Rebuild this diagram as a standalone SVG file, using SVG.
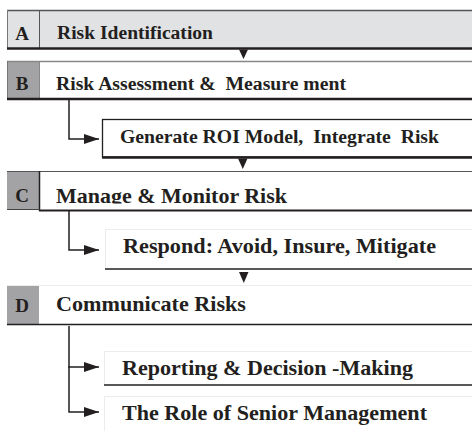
<svg xmlns="http://www.w3.org/2000/svg" width="472" height="431" viewBox="0 0 472 431">
  <defs>
    <style>
      .t { font-family: "Liberation Serif", "Times New Roman", serif; font-weight: bold; fill: #231f20; }
      .h { font-size: 18.5px; }
      .h2 { font-size: 21px; }
      .s { font-size: 21px; }
      .ltr { font-size: 19px; text-anchor: middle; }
      .conn { fill: none; stroke: #231f20; stroke-width: 1.5; }
      .faint { stroke: #ececec; stroke-width: 1; fill: none; }
      .tri { fill: #231f20; }
    </style>
    <marker id="arr" markerUnits="userSpaceOnUse" markerWidth="16" markerHeight="12" refX="15" refY="6" orient="auto">
      <polygon points="0,1 15,6 0,11" fill="#231f20"/>
    </marker>
    <clipPath id="clipC">
      <rect x="40" y="172" width="432" height="31.5"/>
    </clipPath>
  </defs>

  <rect width="472" height="431" fill="#ffffff"/>

  <!-- Section A -->
  <g id="sectionA">
    <rect x="7" y="10" width="465" height="38" fill="#e1e2e4"/>
    <line x1="7" y1="10.5" x2="472" y2="10.5" stroke="#555" stroke-width="1.5"/>
    <line x1="7.5" y1="10" x2="7.5" y2="48" stroke="#777" stroke-width="1"/>
    <line x1="39.5" y1="10" x2="39.5" y2="48" stroke="#555" stroke-width="1"/>
    <line x1="7" y1="48.5" x2="472" y2="48.5" stroke="#231f20" stroke-width="2.5"/>
    <text class="t ltr" x="22" y="39.5">A</text>
    <text class="t h" x="57" y="39" textLength="156" lengthAdjust="spacingAndGlyphs">Risk Identification</text>
  </g>

  <!-- Section B -->
  <g id="sectionB">
    <rect x="7" y="62" width="32" height="36" fill="#a3a3a5"/>
    <line x1="7" y1="61.5" x2="472" y2="61.5" stroke="#888" stroke-width="1.5"/>
    <line x1="7.5" y1="61" x2="7.5" y2="98" stroke="#777" stroke-width="1"/>
    <line x1="39.5" y1="61" x2="39.5" y2="98" stroke="#888" stroke-width="1"/>
    <line x1="7" y1="99" x2="472" y2="99" stroke="#231f20" stroke-width="2.5"/>
    <text class="t ltr" x="22" y="89.5">B</text>
    <text class="t h" x="56" y="89.5" textLength="290" lengthAdjust="spacingAndGlyphs" xml:space="preserve">Risk Assessment &amp;  Measure ment</text>
  </g>

  <!-- B.1 -->
  <g id="roiModel">
    <rect x="102.5" y="119.5" width="375" height="37.5" fill="#ffffff" stroke="#231f20" stroke-width="1.3"/>
    <line x1="102" y1="157.5" x2="472" y2="157.5" stroke="#231f20" stroke-width="2.5"/>
    <text class="t s" x="120" y="142.5" style="font-size:19.5px" textLength="319" lengthAdjust="spacingAndGlyphs" xml:space="preserve">Generate ROI Model,  Integrate  Risk</text>
  </g>

  <!-- Section C -->
  <g id="sectionC">
    <rect x="7" y="172" width="32" height="37" fill="#a3a3a5"/>
    <line x1="7" y1="171.5" x2="472" y2="171.5" stroke="#555" stroke-width="1.2"/>
    <line x1="39.5" y1="171" x2="39.5" y2="211" stroke="#231f20" stroke-width="1.5"/>
    <line x1="7" y1="209.5" x2="40" y2="209.5" stroke="#444" stroke-width="1"/>
    <line x1="39" y1="210.5" x2="472" y2="210.5" stroke="#231f20" stroke-width="2.2"/>
    <text class="t ltr" x="22" y="202">C</text>
    <text class="t h2" x="56" y="203" textLength="231" lengthAdjust="spacingAndGlyphs" clip-path="url(#clipC)">Manage &amp; Monitor Risk</text>
  </g>

  <!-- C.1 -->
  <g id="respond">
    <line class="faint" x1="105" y1="229.5" x2="472" y2="229.5"/>
    <line class="faint" x1="105.5" y1="229" x2="105.5" y2="269"/>
    <line x1="105" y1="269" x2="472" y2="269" stroke="#231f20" stroke-width="1.3"/>
    <text class="t s" x="123" y="253" textLength="313" lengthAdjust="spacingAndGlyphs">Respond: Avoid, Insure, Mitigate</text>
  </g>

  <!-- Section D -->
  <g id="sectionD">
    <line class="faint" x1="7" y1="285.5" x2="472" y2="285.5"/>
    <rect x="7" y="286" width="32" height="38" fill="#a3a3a5"/>
    <line x1="7" y1="324.5" x2="472" y2="324.5" stroke="#231f20" stroke-width="1.5"/>
    <text class="t ltr" x="22" y="311.5">D</text>
    <text class="t h2" x="56" y="311" textLength="190" lengthAdjust="spacingAndGlyphs">Communicate Risks</text>
  </g>

  <!-- D.1 -->
  <g id="reporting">
    <line class="faint" x1="104" y1="351.5" x2="472" y2="351.5"/>
    <line class="faint" x1="104.5" y1="351" x2="104.5" y2="385"/>
    <line x1="104" y1="385" x2="472" y2="385" stroke="#231f20" stroke-width="1.3"/>
    <text class="t s" x="122" y="375" textLength="291" lengthAdjust="spacingAndGlyphs">Reporting &amp; Decision -Making</text>
  </g>

  <!-- D.2 -->
  <g id="seniorMgmt">
    <line class="faint" x1="104" y1="396.5" x2="472" y2="396.5"/>
    <line class="faint" x1="104.5" y1="396" x2="104.5" y2="431"/>
    <text class="t s" x="122" y="420" textLength="305" lengthAdjust="spacingAndGlyphs">The Role of Senior Management</text>
  </g>

  <!-- Connectors -->
  <g id="connectors">
    <polygon class="tri" points="239,49.5 248,49.5 243.5,59"/>
    <polygon class="tri" points="238,158.5 247.5,158.5 242.8,169"/>
    <polygon class="tri" points="239,272 248.5,272 243.8,283"/>
    <path class="conn" d="M69 100 V139 H99" marker-end="url(#arr)"/>
    <path class="conn" d="M69 211 V250 H99" marker-end="url(#arr)"/>
    <path class="conn" d="M69 326 V367 H99" marker-end="url(#arr)"/>
    <path class="conn" d="M69 366 V412 H99" marker-end="url(#arr)"/>
  </g>
</svg>
